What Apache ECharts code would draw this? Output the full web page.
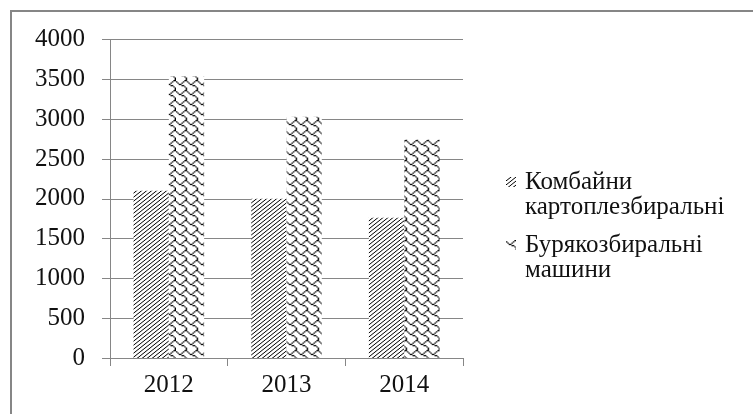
<!DOCTYPE html>
<html>
<head>
<meta charset="utf-8">
<script src="https://cdn.jsdelivr.net/npm/echarts@6/dist/echarts.min.js"></script>
<style>html,body{margin:0;padding:0;background:#fff}#c{width:753px;height:414px}</style>
</head>
<body>
<div id="c"></div>
<script>
const categories = ['2012', '2013', '2014'];
const seriesNames = ['Комбайни картоплезбиральні', 'Бурякозбиральні машини'];
const combines = [2100, 2000, 1760];
const beet = [3540, 3030, 2740];
const yMin = 0, yMax = 4000, yStep = 500;

function makePattern(rows, sx, sy) {
  const base = document.createElement('canvas');
  base.width = base.height = 64;
  const b = base.getContext('2d');
  b.fillStyle = '#fff'; b.fillRect(0, 0, 64, 64);
  b.fillStyle = '#000';
  for (let ty = 0; ty < 8; ty++) for (let tx = 0; tx < 8; tx++)
    for (let r = 0; r < 8; r++) for (let c = 0; c < 8; c++)
      if ((rows[r] >> (7 - c)) & 1) b.fillRect(tx * 8 + c, ty * 8 + r, 1, 1);
  const out = document.createElement('canvas');
  out.width = 64 * sx; out.height = 64 * sy;
  const o = out.getContext('2d');
  o.imageSmoothingEnabled = true;
  o.drawImage(base, 0, 0, out.width, out.height);
  return out;
}
const diagPat = makePattern([0x11, 0x22, 0x44, 0x88, 0x11, 0x22, 0x44, 0x88], 1.25, 1);
const shinglePat = makePattern([0x03, 0x84, 0x48, 0x30, 0x0c, 0x02, 0x01, 0x01], 1.375, 1.25);

const font = 'Liberation Serif';
const gray = '#868686';
const chart = echarts.init(document.getElementById('c'), null, { renderer: 'canvas' });

function legendFor(name, top) {
  return {
    data: [name], orient: 'vertical', left: 506, top: top, padding: 0,
    itemWidth: 10, itemHeight: 10, icon: 'rect', selectedMode: false,
    formatter: n => '{t|}\n{t|' + n.replace(' ', '}\n{t|') + '}',
    textStyle: {
      fontFamily: font, fontSize: 25, color: '#111',
      rich: { t: { fontFamily: font, fontSize: 25, color: '#111', lineHeight: 25, height: 25, padding: [0, 0, 0, 4] } }
    }
  };
}

chart.setOption({
  animation: false,
  backgroundColor: '#fff',
  textStyle: { fontFamily: font, color: '#111' },
  graphic: [{
    type: 'polyline', silent: true,
    shape: { points: [[11, 420], [11, 11], [760, 11]] },
    style: { stroke: gray, lineWidth: 2, fill: null }
  }],
  grid: { left: 110, right: 290, top: 39.5, bottom: 56 },
  legend: [legendFor(seriesNames[0], 144.5), legendFor(seriesNames[1], 207.5)],
  xAxis: {
    type: 'category', data: categories,
    axisLine: { lineStyle: { color: gray } },
    axisTick: { show: true, length: 8, lineStyle: { color: gray } },
    axisLabel: { fontFamily: font, fontSize: 25, color: '#111', margin: 15 }
  },
  yAxis: {
    type: 'value', min: yMin, max: yMax, interval: yStep,
    axisLine: { show: true, lineStyle: { color: gray } },
    axisTick: { show: true, length: 8, lineStyle: { color: gray } },
    splitLine: { lineStyle: { color: gray } },
    axisLabel: { fontFamily: font, fontSize: 25, color: '#111', margin: 25, formatter: v => String(v) }
  },
  series: [
    { name: seriesNames[0], type: 'bar', data: combines, barGap: '0%', barCategoryGap: '40%',
      itemStyle: { color: { image: diagPat, repeat: 'repeat' } } },
    { name: seriesNames[1], type: 'bar', data: beet, barGap: '0%', barCategoryGap: '40%',
      itemStyle: { color: { image: shinglePat, repeat: 'repeat' } } }
  ]
});
</script>
</body>
</html>
